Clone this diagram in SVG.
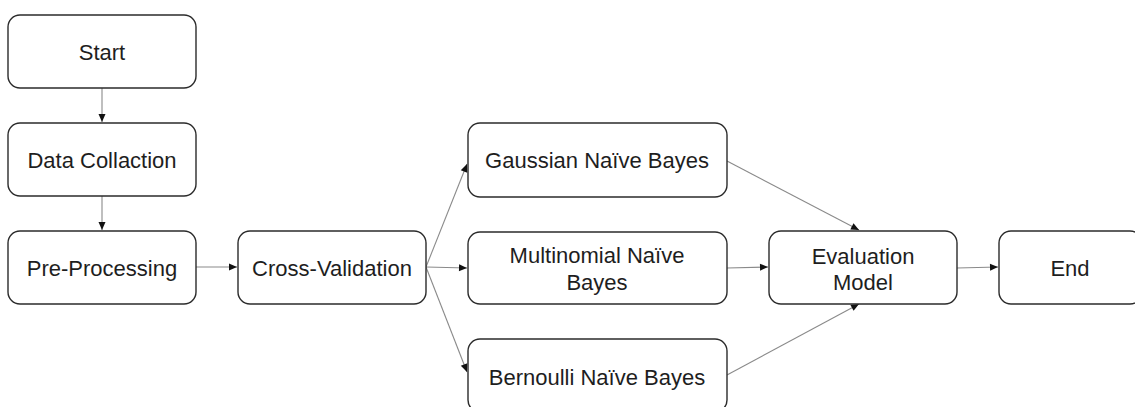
<svg xmlns="http://www.w3.org/2000/svg" width="1135" height="407" viewBox="0 0 1135 407">
<style>
.box{fill:#fff;stroke:#2b2b2b;stroke-width:1.4}
.t{font-family:"Liberation Sans",Arial,sans-serif;font-size:22px;fill:#1e1e1e;text-anchor:middle}
.c{fill:none;stroke:#8a8a8a;stroke-width:1.1}
</style>
<defs>
<marker id="ah" markerUnits="userSpaceOnUse" markerWidth="10" markerHeight="10" viewBox="0 0 10 10" refX="9" refY="5" orient="auto">
<path d="M1,1.5 L9,5 L1,8.5 Z" fill="#111"/>
</marker>
</defs>
<rect width="1135" height="407" fill="#fff"/>
<g id="connectors">
<line class="c" x1="102" y1="88" x2="102" y2="122" marker-end="url(#ah)"/>
<line class="c" x1="102" y1="196" x2="102" y2="230" marker-end="url(#ah)"/>
<line class="c" x1="196" y1="267" x2="237" y2="267" marker-end="url(#ah)"/>
<line class="c" x1="426" y1="267" x2="467" y2="164" marker-end="url(#ah)"/>
<line class="c" x1="426" y1="267" x2="467" y2="268" marker-end="url(#ah)"/>
<line class="c" x1="426" y1="267" x2="467" y2="372" marker-end="url(#ah)"/>
<line class="c" x1="727" y1="161" x2="859" y2="230" marker-end="url(#ah)"/>
<line class="c" x1="727" y1="268" x2="768" y2="267" marker-end="url(#ah)"/>
<line class="c" x1="727" y1="375" x2="859" y2="304" marker-end="url(#ah)"/>
<line class="c" x1="957" y1="268" x2="998" y2="267" marker-end="url(#ah)"/>
</g>
<g id="start"><rect class="box" x="8" y="15" width="188" height="73" rx="12"/><text class="t" x="102" y="60">Start</text></g>
<g id="data-collaction"><rect class="box" x="8" y="123" width="188" height="73" rx="12"/><text class="t" x="102" y="168">Data Collaction</text></g>
<g id="pre-processing"><rect class="box" x="8" y="231" width="188" height="73" rx="12"/><text class="t" x="102" y="276">Pre-Processing</text></g>
<g id="cross-validation"><rect class="box" x="238" y="231" width="188" height="73" rx="12"/><text class="t" x="332" y="276">Cross-Validation</text></g>
<g id="gaussian"><rect class="box" x="468" y="123" width="259" height="74" rx="12"/><text class="t" x="597" y="168">Gaussian Naïve Bayes</text></g>
<g id="multinomial"><rect class="box" x="468" y="232" width="259" height="72" rx="12"/><text class="t" x="597" y="263">Multinomial Naïve</text><text class="t" x="597" y="290">Bayes</text></g>
<g id="bernoulli"><rect class="box" x="468" y="339" width="259" height="73" rx="12"/><text class="t" x="597" y="385">Bernoulli Naïve Bayes</text></g>
<g id="evaluation"><rect class="box" x="769" y="231" width="188" height="73" rx="12"/><text class="t" x="863" y="264">Evaluation</text><text class="t" x="863" y="290">Model</text></g>
<g id="end"><rect class="box" x="999" y="231" width="143" height="73" rx="12"/><text class="t" x="1070" y="276">End</text></g>
</svg>
